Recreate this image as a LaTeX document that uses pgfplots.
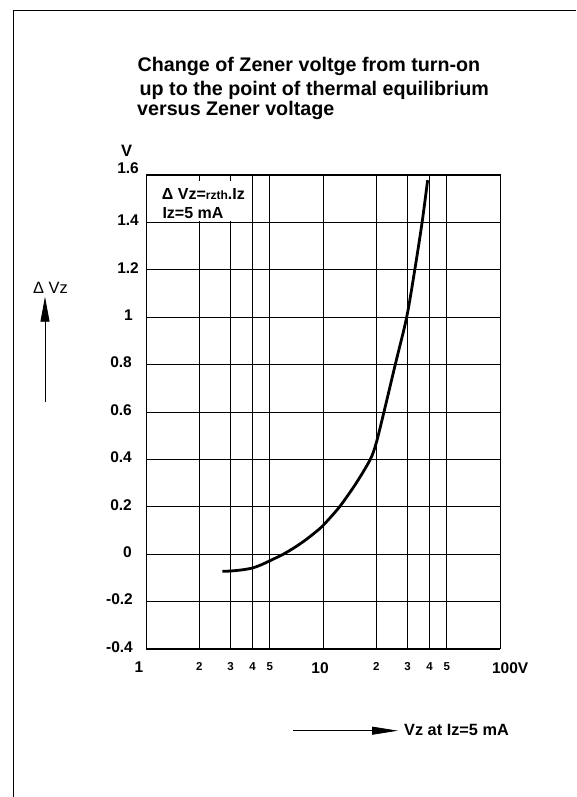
\documentclass[border=0pt]{standalone}
\usepackage{fontspec}
\setmainfont{Liberation Sans}
\usepackage{pgfplots}
\pgfplotsset{compat=1.18}
\usetikzlibrary{arrows.meta}
\newcommand{\tlbig}{\fontsize{15.5}{15.5}\selectfont\bfseries}
\newcommand{\tlsml}{\fontsize{11.5}{11.5}\selectfont\bfseries}
\begin{document}
\begin{tikzpicture}[x=1pt,y=1pt]
\useasboundingbox (0,0) rectangle (576,797);
\draw[line width=1.3pt] (13.3,0) -- (13.3,786.3) -- (576,786.3);
% title
\node[anchor=base west,inner sep=0pt,font=\fontsize{19.7}{19.7}\selectfont\bfseries] at (137.5,725) {Change of Zener voltge from turn-on};
\node[anchor=base west,inner sep=0pt,font=\fontsize{19.7}{19.7}\selectfont\bfseries] at (139.5,701.3) {up to the point of thermal equilibrium};
\node[anchor=base west,inner sep=0pt,font=\fontsize{19.7}{19.7}\selectfont\bfseries] at (137,681.5) {versus Zener voltage};
\begin{axis}[
  at={(146pt,148pt)}, anchor=south west,
  scale only axis, width=354pt, height=474pt,
  xmode=log, xmin=1, xmax=100, ymin=-0.4, ymax=1.6,
  xtick={1,2,3,4,5,10,20,30,40,50,100},
  xticklabels={{\tlbig 1\hspace*{14pt}},{\tlsml 2},{\tlsml 3},{\tlsml 4},{\tlsml 5},{\tlbig 10\hspace*{6pt}},{\tlsml 2},{\tlsml 3},{\tlsml 4},{\tlsml 5},{\tlbig\hspace*{10pt}100\rlap{V}}},
  minor xtick={},
  ytick={-0.4,-0.2,0,0.2,0.4,0.6,0.8,1,1.2,1.4,1.6},
  yticklabels={{-0.4\hspace*{2pt}},{-0.2\hspace*{2pt}},{0\hspace*{3pt}},{0.2\hspace*{3pt}},{0.4\hspace*{3pt}},{0.6\hspace*{3pt}},{0.8\hspace*{3pt}},{1\hspace*{2pt}},{1.2\hspace*{-4pt}},{1.4\hspace*{-4pt}},{\raisebox{10pt}{1.6}\hspace*{-4pt}}},
  grid=major,
  major grid style={black, line width=0.8pt},
  axis line style={line width=1pt},
  major tick length=0pt,
  xticklabel style={anchor=north, inner sep=0pt, yshift=-13pt},
  yticklabel style={anchor=east, inner sep=0pt, xshift=-11pt, yshift=2pt, font=\fontsize{15.5}{15.5}\selectfont\bfseries},
  clip=false,
]
\addplot[black, line width=2.8pt, smooth, tension=0.5] coordinates {
(2.7,-0.072) (3,-0.071) (3.5,-0.066) (4,-0.058) (4.5,-0.044) (5,-0.028)
(6,0.001) (7,0.031) (8,0.061) (9,0.091) (10,0.121) (12.4,0.2)
(15.4,0.3) (18.5,0.4) (20,0.47) (22.1,0.6) (25.6,0.8) (29.7,1.0)
(33,1.2) (36.3,1.4) (39,1.578)
};
\end{axis}
% annotation box
\fill[white] (147,575.5) rectangle (250,615.5);
\node[anchor=base west,inner sep=0pt] at (161.7,597) {\fontsize{16}{16}\selectfont\bfseries Δ Vz=\fontsize{12}{12}\selectfont rzth\fontsize{16}{16}\selectfont.Iz};
\node[anchor=base west,inner sep=0pt] at (162.3,578.7) {\fontsize{16}{16}\selectfont\bfseries Iz=5 mA};
% V unit
\node[anchor=base west,inner sep=0pt] at (121,640.3) {\fontsize{16.5}{16.5}\selectfont\bfseries V};
% left label and arrow
\node[anchor=base west,inner sep=0pt] at (33,503.7) {\fontsize{16.4}{16.4}\selectfont Δ Vz};
\draw[line width=0.8pt,-{Triangle[length=25pt,width=9pt]}] (45,395.3) -- (45,500.3);
% bottom arrow and label
\draw[line width=0.8pt,-{Triangle[length=26pt,width=8pt]}] (293,66.3) -- (398,66.3);
\node[anchor=base west,inner sep=0pt] at (404,61) {\fontsize{16.3}{16.3}\selectfont\bfseries Vz at Iz=5 mA};
\end{tikzpicture}
\end{document}
